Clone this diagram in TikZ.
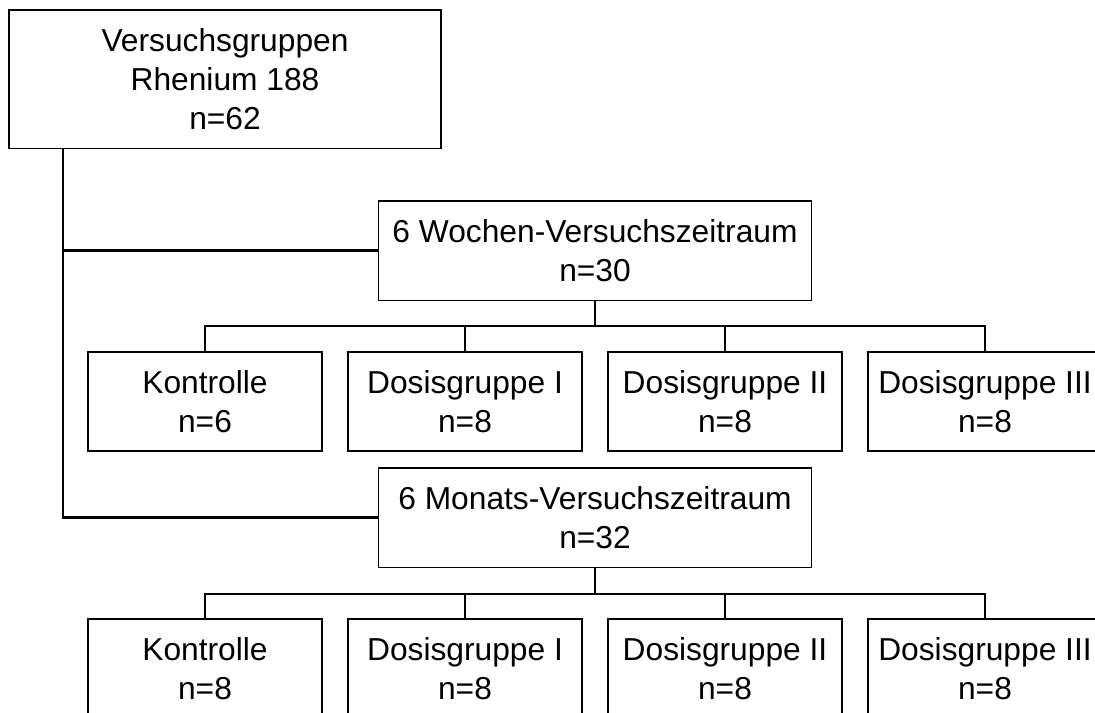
\documentclass[tikz,border=0pt]{standalone}
\usepackage{fontspec}
\setmainfont{Liberation Sans}
\tikzset{
	box/.style={draw, line width=1pt, align=center, inner sep=0pt,
		font=\fontsize{23.8}{29.25}\selectfont},
	bigbox/.style={box, minimum width=324pt, minimum height=104pt},
	midbox/.style={box, minimum width=325pt, minimum height=74.5pt},
	smallbox/.style={box, minimum width=175.5pt, minimum height=74.25pt},
	link/.style={line width=1.6pt}
}
\begin{document}
\begin{tikzpicture}[x=0.75pt, y=-0.75pt]
		\path[use as bounding box, clip] (0,0) rectangle (1095,713);
		
		\node[bigbox] (top) at (225, 79.5) {Versuchsgruppen\\Rhenium 188\\n=62};
		\node[midbox] (wochen) at (595, 250.5) {6 Wochen-Versuchszeitraum\\n=30};
		\node[midbox] (monat) at (595, 517.5) {6 Monats-Versuchszeitraum\\n=32};
		
		\node[smallbox] (wk) at (205, 401.5) {Kontrolle\\n=6};
		\node[smallbox] (wd1) at (465, 401.5) {Dosisgruppe I\\n=8};
		\node[smallbox] (wd2) at (725, 401.5) {Dosisgruppe II\\n=8};
		\node[smallbox] (wd3) at (985, 401.5) {Dosisgruppe III\\n=8};
		
		\node[smallbox] (mk) at (205, 668.5) {Kontrolle\\n=8};
		\node[smallbox] (md1) at (465, 668.5) {Dosisgruppe I\\n=8};
		\node[smallbox] (md2) at (725, 668.5) {Dosisgruppe II\\n=8};
		\node[smallbox] (md3) at (985, 668.5) {Dosisgruppe III\\n=8};
		
		\coordinate (trunk) at (63, 149);
		\draw[link] (trunk) |- (wochen.west);
		\draw[link] (trunk) |- (monat.west);
		
		\coordinate (wbus) at (595, 326);
		\draw[link] (wochen.south) -- (wbus);
		\foreach \n in {wk, wd1, wd2, wd3}
			\draw[link] (wbus) -| (\n.north);
		
		\coordinate (mbus) at (595, 594);
		\draw[link] (monat.south) -- (mbus);
		\foreach \n in {mk, md1, md2, md3}
			\draw[link] (mbus) -| (\n.north);
	\end{tikzpicture}
\end{document}
